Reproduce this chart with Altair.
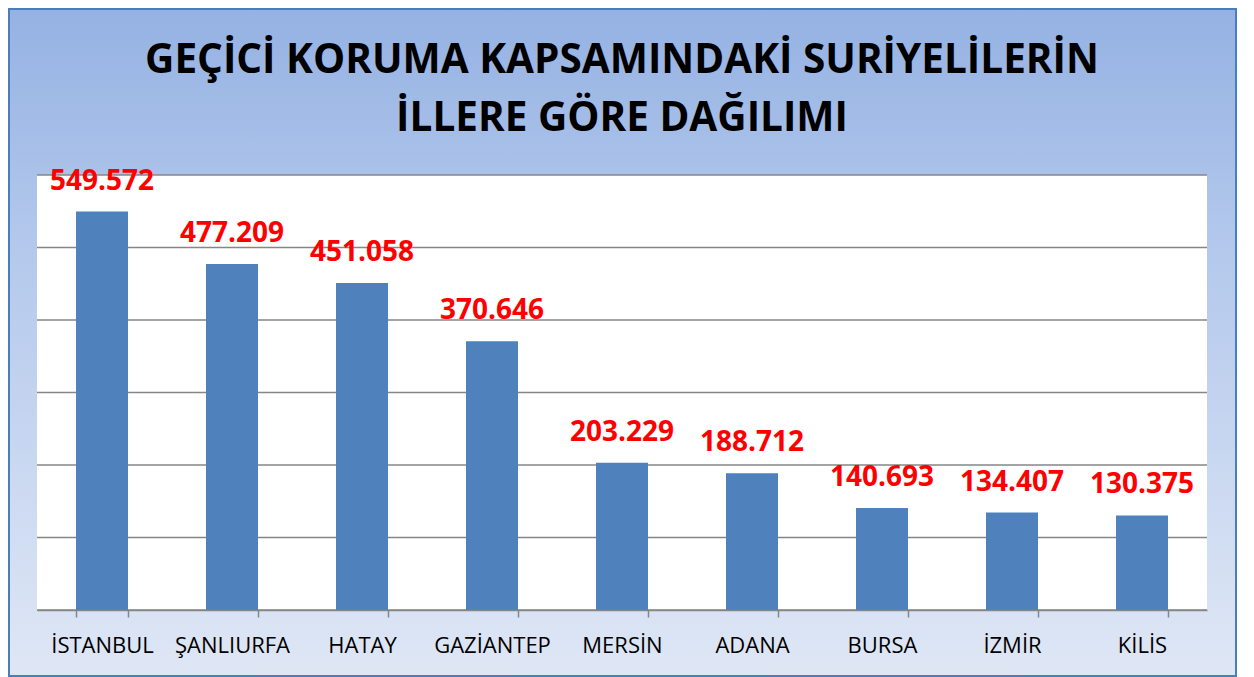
import altair as alt
import pandas as pd

cities = ["İSTANBUL", "ŞANLIURFA", "HATAY", "GAZİANTEP", "MERSİN", "ADANA", "BURSA", "İZMİR", "KİLİS"]
values = [549572, 477209, 451058, 370646, 203229, 188712, 140693, 134407, 130375]
grid_ticks = [0, 100000, 200000, 300000, 400000, 500000, 600000]
title_lines = ["GEÇİCİ KORUMA KAPSAMINDAKİ SURİYELİLERİN", "İLLERE GÖRE DAĞILIMI"]

labels = [f"{v:,}".replace(",", ".") for v in values]
df = pd.DataFrame({"city": cities, "value": values, "label": labels})
grid_df = pd.DataFrame({"v": grid_ticks})
one = pd.DataFrame({"a": [0]})

W, H = 1170, 435
PL, PT, PR, PB = 29, 167, 31, 67

yscale = alt.Scale(domain=[0, 600000], nice=False, zero=True)
xenc = alt.X(
    "city:N",
    sort=cities,
    scale=alt.Scale(paddingInner=0.6, paddingOuter=0.3),
    axis=alt.Axis(
        title=None, labelAngle=0, labelFont="Open Sans", labelFontSize=22,
        labelColor="#000000", labelPadding=18, tickBand="extent", tickSize=7,
        tickColor="#868686", tickWidth=1.5, domainColor="#868686",
        domainWidth=1.5, grid=False, zindex=1, labelLimit=200,
    ),
)

gradient = alt.LinearGradient(
    gradient="linear",
    stops=[
        alt.GradientStop(color="#95b2e3", offset=0),
        alt.GradientStop(color="#b3c8ec", offset=0.35),
        alt.GradientStop(color="#dfe7f5", offset=1),
    ],
    x1=0, x2=0, y1=0, y2=1,
)

bg = alt.Chart(one).mark_rect(fill=gradient, stroke="#4a7ebb", strokeWidth=2).encode(
    x=alt.value(-PL + 1), x2=alt.value(W + PR - 2),
    y=alt.value(-PT + 1), y2=alt.value(H + PB - 1),
)
plotbg = alt.Chart(one).mark_rect(fill="white").encode(
    x=alt.value(0), x2=alt.value(W), y=alt.value(0), y2=alt.value(H)
)
grid = alt.Chart(grid_df).mark_rule(color="#868686", strokeWidth=1.5).encode(
    y=alt.Y("v:Q", scale=yscale, axis=None)
)
bars = alt.Chart(df).mark_bar(color="#4f81bd").encode(
    x=xenc, y=alt.Y("value:Q", scale=yscale, axis=None)
)
text = alt.Chart(df).mark_text(
    color="#ff0000", font="Open Sans", fontWeight="bold", fontSize=28,
    baseline="middle", dy=-30,
).encode(x=alt.X("city:N", sort=cities), y=alt.Y("value:Q", scale=yscale, axis=None), text="label:N")
title = alt.Chart(one).mark_text(
    font="Open Sans", fontWeight="bold", fontSize=40.5, color="#000000",
    baseline="alphabetic", align="center", lineHeight=58,
).encode(x=alt.value(W / 2), y=alt.value(73 - 175), text=alt.value(title_lines))

chart = alt.layer(bg, plotbg, grid, bars, text, title).properties(
    width=W, height=H,
    padding={"left": PL, "top": PT, "right": PR, "bottom": PB},
    autosize=alt.AutoSizeParams(type="none"),
).configure_view(stroke=None).configure(background="white")

chart.save("out.html", embed_options={"renderer": "svg", "actions": False})
